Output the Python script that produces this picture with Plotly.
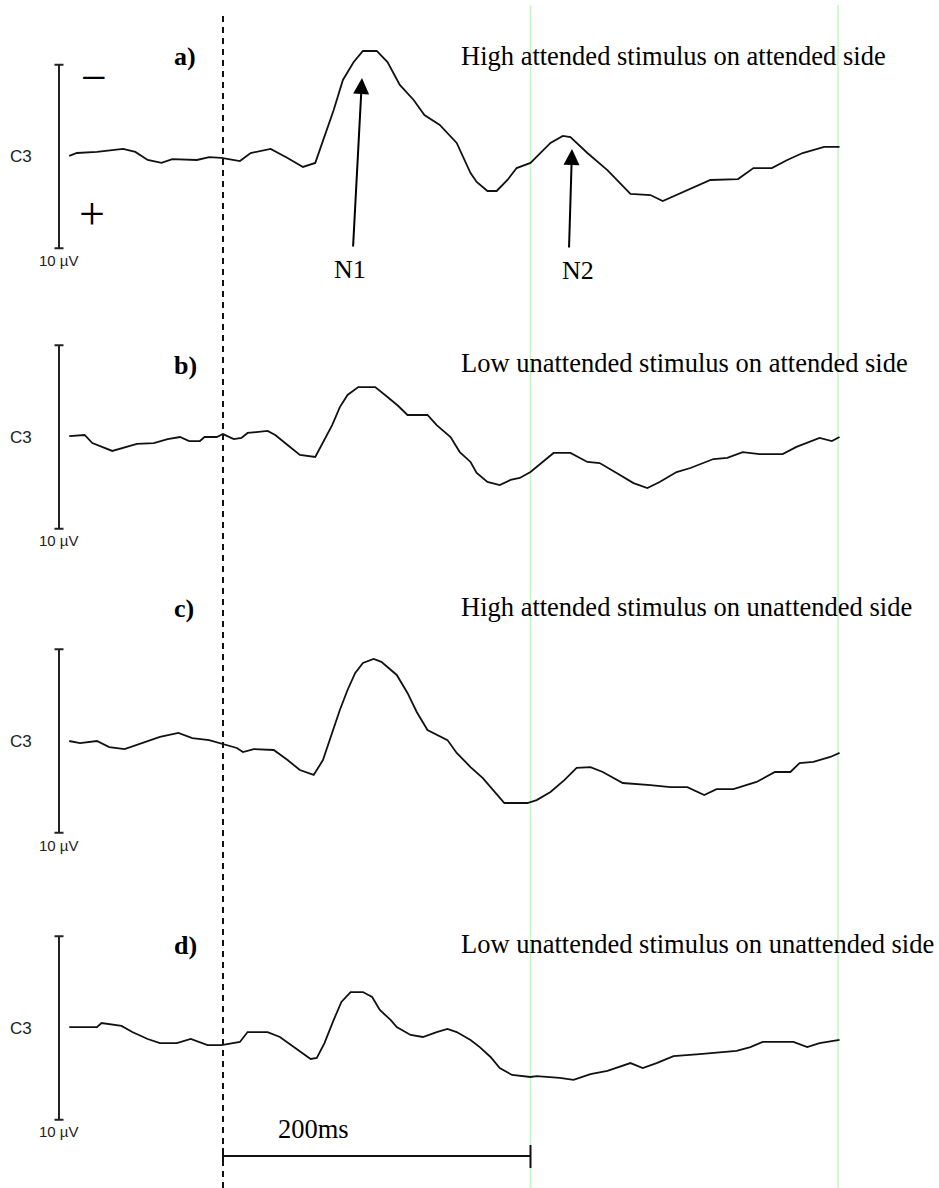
import plotly.graph_objects as go

# ---------------- data ----------------
# ERP traces at electrode C3; time in ms, amplitude in µV (negative plotted upward)
time_a = [-100, -95, -82, -65, -57, -49, -40, -33, -17, -9, -1, 11, 18, 31, 42, 52, 60, 66, 72, 78,
          85, 91, 100, 107, 115, 124, 131, 141, 152, 161, 165, 172, 178, 185, 191, 200, 213, 221, 226,
          237, 250, 265, 278, 286, 302, 317, 335, 345, 357, 367, 377, 391, 401]
volt_a = [-0.03, -0.19, -0.25, -0.41, -0.25, 0.19, 0.35, 0.14, 0.19, 0.03, 0.08, 0.25, -0.19, -0.41,
          0.08, 0.57, 0.35, -1.06, -2.53, -4.17, -5.15, -5.75, -5.75, -5.15, -3.90, -3.08, -2.26, -1.72,
          -0.74, 0.90, 1.39, 1.88, 1.88, 1.28, 0.63, 0.35, -0.74, -1.12, -1.06, -0.19, 0.74, 2.04, 2.10,
          2.43, 1.83, 1.28, 1.23, 0.63, 0.63, 0.19, -0.19, -0.52, -0.52]

time_b = [-100, -90, -85, -72, -56, -45, -36, -28, -22, -15, -12, -4, 0, 7, 12, 16, 29, 34, 42, 50,
          60, 65, 71, 76, 81, 88, 99, 107, 114, 120, 133, 139, 148, 154, 161, 165, 172, 180, 187, 193,
          200, 215, 226, 237, 245, 256, 267, 276, 284, 295, 304, 319, 328, 338, 349, 364, 373, 388,
          396, 401]
volt_b = [-0.05, -0.11, 0.33, 0.76, 0.38, 0.33, 0.11, 0.00, 0.22, 0.22, 0.00, 0.00, -0.16, 0.11, 0.05,
          -0.22, -0.33, -0.11, 0.44, 0.98, 1.09, 0.33, -0.65, -1.63, -2.29, -2.72, -2.72, -2.18, -1.69,
          -1.20, -1.20, -0.65, 0.00, 0.82, 1.36, 1.96, 2.45, 2.62, 2.34, 2.23, 1.91, 0.87, 0.87, 1.36,
          1.42, 1.96, 2.51, 2.78, 2.45, 1.91, 1.69, 1.20, 1.14, 0.82, 0.93, 0.93, 0.54, 0.05, 0.22, 0.00]

time_c = [-100, -93, -82, -74, -64, -54, -41, -29, -20, -9, 0, 9, 13, 20, 33, 42, 50, 59, 65, 71, 76,
          81, 86, 91, 98, 103, 113, 120, 126, 133, 146, 152, 161, 169, 176, 183, 198, 204, 213, 222,
          230, 239, 247, 254, 260, 278, 291, 302, 313, 321, 332, 347, 359, 369, 375, 384, 395, 401]
volt_c = [0.00, 0.11, 0.00, 0.33, 0.44, 0.16, -0.22, -0.44, -0.16, -0.05, 0.16, 0.38, 0.60, 0.44, 0.49,
          1.04, 1.58, 1.85, 1.04, -0.44, -1.69, -2.78, -3.71, -4.25, -4.47, -4.31, -3.60, -2.62, -1.58,
          -0.60, -0.05, 0.65, 1.42, 2.02, 2.67, 3.38, 3.38, 3.22, 2.78, 2.13, 1.47, 1.42, 1.69, 2.02,
          2.29, 2.40, 2.51, 2.51, 2.94, 2.62, 2.62, 2.23, 1.69, 1.69, 1.20, 1.14, 0.87, 0.65]

time_d = [-100, -82, -79, -66, -59, -49, -41, -30, -21, -10, -1, 11, 16, 29, 37, 46, 57, 61, 66, 72,
          77, 83, 91, 97, 102, 109, 113, 122, 130, 139, 146, 152, 161, 167, 174, 180, 188, 200, 204,
          219, 228, 239, 250, 265, 273, 282, 293, 310, 325, 334, 343, 351, 371, 380, 388, 401]
volt_d = [-0.05, -0.05, -0.27, -0.11, 0.22, 0.60, 0.82, 0.82, 0.60, 0.93, 0.93, 0.76, 0.22, 0.22, 0.49,
          1.04, 1.69, 1.63, 0.82, -0.44, -1.42, -1.96, -1.96, -1.69, -0.98, -0.44, -0.05, 0.38, 0.49,
          0.22, 0.05, 0.22, 0.65, 1.04, 1.58, 2.18, 2.56, 2.67, 2.62, 2.72, 2.83, 2.51, 2.34, 1.91, 2.18,
          1.91, 1.53, 1.42, 1.31, 1.25, 1.04, 0.76, 0.76, 1.04, 0.82, 0.65]

panel_labels = ["a)", "b)", "c)", "d)"]
panel_titles = [
    "High attended stimulus on attended side",
    "Low unattended stimulus on attended side",
    "High attended stimulus on unattended side",
    "Low unattended stimulus on unattended side",
]
channel_label = "C3"
uv_scale_label = "10 µV"
uv_scale = 10
ms_scale_label = "200ms"
ms_scale = 200
marker_times = [200, 400]
peak_labels = ["N1", "N2"]

# ---------------- layout constants (pixels) ----------------
W, H = 939, 1188
X0_PX = 223            # pixel column of stimulus onset (0 ms)
PX_PER_MS = 1.5375
PX_PER_UV = 18.35
CENTER_PX = [156.5, 437.0, 741.0, 1028.0]
LABEL_Y = [56, 365, 608, 945]
TITLE_Y = [56, 363, 607, 944]
UVLAB_Y = [260.5, 540.5, 845.5, 1131.5]
BAR_X_PX = 59

SERIF = "Liberation Serif, Times New Roman, serif"
SANS = "Liberation Sans, Arial, sans-serif"
TRACE_COLOR = "#111111"


def px(x):
    return x / W


def py(y):
    return 1 - y / H


def ms_at(xpx):
    return (xpx - X0_PX) / PX_PER_MS


times = [time_a, time_b, time_c, time_d]
volts = [volt_a, volt_b, volt_c, volt_d]

fig = go.Figure()
yaxis_names = ["y", "y2", "y3", "y4"]
for i in range(4):
    fig.add_trace(go.Scatter(
        x=times[i], y=volts[i], mode="lines", yaxis=yaxis_names[i],
        line=dict(color=TRACE_COLOR, width=1.8), hoverinfo="skip", showlegend=False,
    ))

layout_axes = {}
for i in range(4):
    c = CENTER_PX[i]
    key = "yaxis" if i == 0 else "yaxis%d" % (i + 1)
    ax = dict(range=[(H - c) / PX_PER_UV, (0 - c) / PX_PER_UV], domain=[0, 1], visible=False,
              showgrid=False, zeroline=False, fixedrange=True, anchor="x")
    if i > 0:
        ax["overlaying"] = "y"
    layout_axes[key] = ax

shapes = []
# stimulus onset dashed line
shapes.append(dict(type="line", xref="x", yref="paper", x0=0, x1=0, y0=py(H), y1=py(15),
                   line=dict(color="#111111", width=2, dash="6px,5px")))
# green marker lines
for t in marker_times:
    shapes.append(dict(type="line", xref="x", yref="paper", x0=t, x1=t, y0=py(H), y1=py(5),
                       line=dict(color="#c4f5c4", width=1.5), layer="below"))
# µV scale bars
bar_ms = ms_at(BAR_X_PX)
cap_ms = 4.5 / PX_PER_MS
for i in range(4):
    yr = yaxis_names[i]
    half = uv_scale / 2
    shapes.append(dict(type="line", xref="x", yref=yr, x0=bar_ms, x1=bar_ms, y0=-half, y1=half,
                       line=dict(color="#222222", width=2)))
    for v in (-half, half):
        shapes.append(dict(type="line", xref="x", yref=yr, x0=bar_ms - cap_ms, x1=bar_ms + cap_ms,
                           y0=v, y1=v, line=dict(color="#222222", width=2)))
# 200 ms time scale bar
shapes.append(dict(type="line", xref="x", yref="paper", x0=0, x1=ms_scale, y0=py(1156), y1=py(1156),
                   line=dict(color="#111111", width=2)))
shapes.append(dict(type="line", xref="x", yref="paper", x0=0, x1=0, y0=py(1148), y1=py(1164),
                   line=dict(color="#111111", width=2)))
shapes.append(dict(type="line", xref="x", yref="paper", x0=ms_scale, x1=ms_scale, y0=py(1145),
                   y1=py(1168), line=dict(color="#111111", width=2)))

annotations = []
for i in range(4):
    annotations.append(dict(x=px(172), y=py(LABEL_Y[i]), xref="paper", yref="paper",
                            text="<b>%s</b>" % panel_labels[i], showarrow=False, xanchor="left",
                            yanchor="middle", font=dict(family=SERIF, size=26, color="#000000")))
    annotations.append(dict(x=px(459), y=py(TITLE_Y[i]), xref="paper", yref="paper",
                            text=panel_titles[i], showarrow=False, xanchor="left", yanchor="middle",
                            font=dict(family=SERIF, size=26.5, color="#000000")))
    annotations.append(dict(x=px(21), y=py(CENTER_PX[i] + 0.5), xref="paper", yref="paper",
                            text=channel_label, showarrow=False, xanchor="center", yanchor="middle",
                            font=dict(family=SANS, size=17, color="#222222")))
    annotations.append(dict(x=px(59), y=py(UVLAB_Y[i]), xref="paper", yref="paper",
                            text=uv_scale_label, showarrow=False, xanchor="center", yanchor="middle",
                            font=dict(family="Liberation Sans Narrow, " + SANS, size=15,
                                      color="#222222")))

# polarity signs
annotations.append(dict(x=px(93.5), y=py(78), xref="paper", yref="paper", text="\u2212",
                        showarrow=False, xanchor="center", yanchor="middle",
                        font=dict(family=SERIF, size=46, color="#000000")))
annotations.append(dict(x=px(92), y=py(213), xref="paper", yref="paper", text="+",
                        showarrow=False, xanchor="center", yanchor="middle",
                        font=dict(family=SERIF, size=46, color="#000000")))

# peak arrows (panel a)
arrow_specs = [
    (peak_labels[0], ms_at(362), (78 - CENTER_PX[0]) / PX_PER_UV, ms_at(353),
     (248 - CENTER_PX[0]) / PX_PER_UV, 349.5, 269),
    (peak_labels[1], ms_at(572), (149 - CENTER_PX[0]) / PX_PER_UV, ms_at(569),
     (249 - CENTER_PX[0]) / PX_PER_UV, 578, 270),
]
for lab, tx, ty, sx, sy, lx, ly in arrow_specs:
    annotations.append(dict(x=tx, y=ty, xref="x", yref="y", ax=sx, ay=sy, axref="x", ayref="y",
                            text="", showarrow=True, arrowhead=2, arrowsize=1.6, arrowwidth=2,
                            arrowcolor="#000000", standoff=0, startstandoff=0))
    annotations.append(dict(x=px(lx), y=py(ly), xref="paper", yref="paper", text=lab,
                            showarrow=False, xanchor="center", yanchor="middle",
                            font=dict(family=SERIF, size=26, color="#000000")))

# time scale label
annotations.append(dict(x=px(313.5), y=py(1129), xref="paper", yref="paper", text=ms_scale_label,
                        showarrow=False, xanchor="center", yanchor="middle",
                        font=dict(family=SERIF, size=26.5, color="#000000")))

fig.update_layout(
    width=W, height=H, autosize=False,
    margin=dict(l=0, r=0, t=0, b=0, pad=0),
    paper_bgcolor="white", plot_bgcolor="white",
    xaxis=dict(range=[ms_at(0), ms_at(W)], domain=[0, 1], visible=False, showgrid=False,
               zeroline=False, fixedrange=True),
    shapes=shapes, annotations=annotations, showlegend=False,
    **layout_axes,
)

fig.write_html("out.html", config={"displayModeBar": False},
               post_script="document.body.style.margin='0';document.body.style.overflow='hidden';")
